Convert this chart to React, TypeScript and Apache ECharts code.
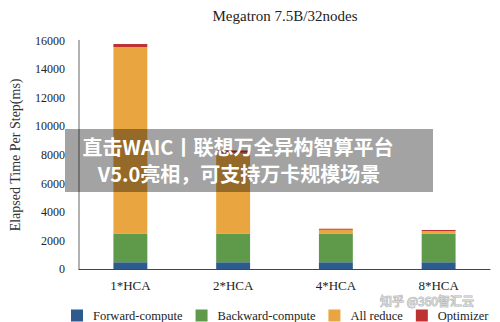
import React, { useEffect, useRef } from "react";
import * as echarts from "echarts";

const categories = ["1*HCA", "2*HCA", "4*HCA", "8*HCA"];
const forwardCompute = [500, 500, 500, 500];
const backwardCompute = [2000, 2000, 2000, 2000];
const allReduce = [13050, 5650, 260, 170];
const optimizer = [200, 150, 80, 80];
const yTicks = [0, 2000, 4000, 6000, 8000, 10000, 12000, 14000, 16000];

const serif = "'Liberation Serif', 'DejaVu Serif', serif";
const cjk = "'Noto Sans CJK SC', sans-serif";

export default function App() {
  const ref = useRef<HTMLDivElement>(null);
  useEffect(() => {
    document.body.style.margin = "0";
    const chart = echarts.init(ref.current!, null, { renderer: "svg" });
    const mk = (name: string, data: number[], color: string) => ({
      name,
      type: "bar",
      stack: "total",
      data,
      barWidth: "33%",
      itemStyle: { color },
    });
    chart.setOption({
      animation: false,
      backgroundColor: "#ffffff",
      title: {
        text: "Megatron 7.5B/32nodes",
        left: 280,
        top: 3,
        textAlign: "center",
        textStyle: { fontFamily: serif, fontSize: 15, fontWeight: "normal", color: "#222" },
      },
      grid: { left: 71, right: 10, top: 40.5, bottom: 52.7, containLabel: false },
      xAxis: {
        type: "category",
        data: categories,
        axisLine: { lineStyle: { color: "#444", width: 1 } },
        axisTick: { show: false },
        axisLabel: { fontFamily: serif, fontSize: 13, lineHeight: 13, color: "#222", margin: 10 },
      },
      yAxis: {
        type: "value",
        min: yTicks[0],
        max: yTicks[yTicks.length - 1],
        interval: 2000,
        name: "Elapsed Time Per Step(ms)",
        nameLocation: "middle",
        nameGap: 57,
        nameTextStyle: { fontFamily: serif, fontSize: 14, color: "#333" },
        axisLine: { show: true, lineStyle: { color: "#999", width: 1.5 } },
        axisTick: { show: false },
        splitLine: { show: false },
        axisLabel: {
          fontFamily: serif,
          fontSize: 12,
          color: "#222",
          margin: 14,
          formatter: (v: number) => String(v),
        },
      },
      legend: {
        top: 309,
        left: 71,
        width: 440,
        padding: 0,
        itemWidth: 12,
        itemHeight: 12,
        itemGap: 13,
        icon: "rect",
        textStyle: { fontFamily: serif, fontSize: 12.5, lineHeight: 12.5, color: "#222", padding: [0, 0, 0, 5] },
        data: ["Forward-compute", "Backward-compute", "All reduce", "Optimizer"],
      },
      series: [
        mk("Forward-compute", forwardCompute, "#2D5B8E"),
        mk("Backward-compute", backwardCompute, "#5E9A4A"),
        mk("All reduce", allReduce, "#E9A53F"),
        mk("Optimizer", optimizer, "#BE3330"),
      ],
      graphic: [
        {
          type: "rect",
          z: 100,
          shape: { x: 65, y: 129, width: 368, height: 63 },
          style: { fill: "rgba(0,0,0,0.36)" },
        },
        {
          type: "text",
          z: 101,
          x: 238,
          y: 146,
          style: {
            text: "直击WAIC丨联想万全异构智算平台",
            fill: "#ffffff",
            font: `bold 20px ${cjk}`,
            textAlign: "center",
            textVerticalAlign: "middle",
          },
        },
        {
          type: "text",
          z: 101,
          x: 239,
          y: 173,
          style: {
            text: "V5.0亮相，可支持万卡规模场景",
            fill: "#ffffff",
            font: `bold 20px ${cjk}`,
            textAlign: "center",
            textVerticalAlign: "middle",
          },
        },
        {
          type: "text",
          z: 101,
          x: 427,
          y: 300.5,
          style: {
            text: "知乎 @360智汇云",
            fill: "rgba(255,255,255,0.5)",
            stroke: "rgba(160,160,160,0.8)",
            lineWidth: 1,
            font: `12px ${cjk}`,
            lineHeight: 12,
            textAlign: "center",
            textVerticalAlign: "middle",
          },
        },
      ],
    });
    return () => chart.dispose();
  }, []);
  return <div ref={ref} style={{ width: 500, height: 322 }} />;
}
